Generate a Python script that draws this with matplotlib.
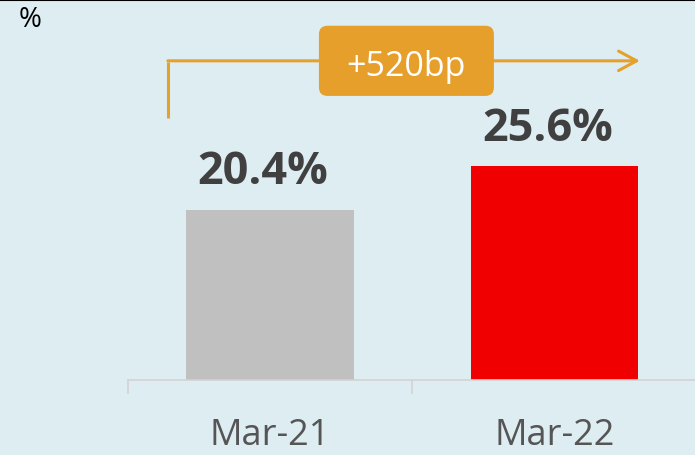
import matplotlib
matplotlib.use("Agg")
import matplotlib.pyplot as plt
from matplotlib.lines import Line2D
from matplotlib.patches import FancyBboxPatch

# data
categories = ["Mar-21", "Mar-22"]
values = [20.4, 25.6]
value_labels = ["20.4%", "25.6%"]
bar_colors = ["#c0c0c0", "#f00000"]
change_label = "+520bp"

bg = "#deedf2"
orange = "#e6a02c"

plt.rcParams["font.family"] = ["Open Sans", "DejaVu Sans"]

fig = plt.figure(figsize=(6.95, 4.56), dpi=100, facecolor=bg)
ax = fig.add_axes([127.75 / 695, 75 / 456, 569 / 695, 381 / 456])
ax.set_facecolor(bg)

x = range(len(categories))
ax.bar(x, values, width=0.59, color=bar_colors, zorder=2)

ax.set_xlim(-0.5, 1.5)
ax.set_ylim(0, 45.6)

# value labels above bars
for i, (v, lab) in enumerate(zip(values, value_labels)):
    ax.annotate(lab, (i, v), xytext=(-5, 19), textcoords="offset points",
                ha="center", va="baseline", fontsize=32.5, fontweight="bold",
                color="#404040")

# axis styling
for s in ["top", "right", "left"]:
    ax.spines[s].set_visible(False)
ax.spines["bottom"].set_color("#d2d2d2")
ax.spines["bottom"].set_linewidth(1.2)
ax.set_yticks([])
ax.set_xticks(list(x))
ax.set_xticklabels(categories, fontsize=26, color="#555555")
ax.tick_params(axis="x", which="major", length=0, pad=27)
ax.set_xticks([-0.5, 0.5], minor=True)
ax.tick_params(axis="x", which="minor", length=10, width=1.2, color="#d2d2d2")

# change bracket + arrow
y_line = 38.2
ax.plot([-0.359, -0.359], [31.3, y_line - 0.1], color=orange, lw=2.2,
        solid_capstyle="butt", zorder=3)
ax.annotate("", xy=(1.30, y_line), xytext=(-0.359, y_line),
            arrowprops=dict(arrowstyle="->,head_length=13,head_width=7",
                            mutation_scale=1, color=orange, lw=2.2,
                            shrinkA=0, shrinkB=0), zorder=3)

box = FancyBboxPatch((0.172, 34.0), 0.615, 8.4,
                     boxstyle="round,pad=0,rounding_size=0.03",
                     mutation_aspect=284.5 / 8.35,
                     facecolor="#e69f2a", edgecolor="none", zorder=4,
                     clip_on=False)
ax.add_patch(box)
ax.text(0.4795, 36.5, change_label, ha="center", va="baseline",
        fontsize=24.5, color="white", zorder=5)

fig.text(19 / 695, 1 - 6 / 456, "%", fontsize=20, color="black",
         ha="left", va="top")
fig.add_artist(Line2D([0, 1], [0.998, 0.998], color="black", lw=1.5))

fig.savefig("out.png", dpi=100, facecolor=bg)
